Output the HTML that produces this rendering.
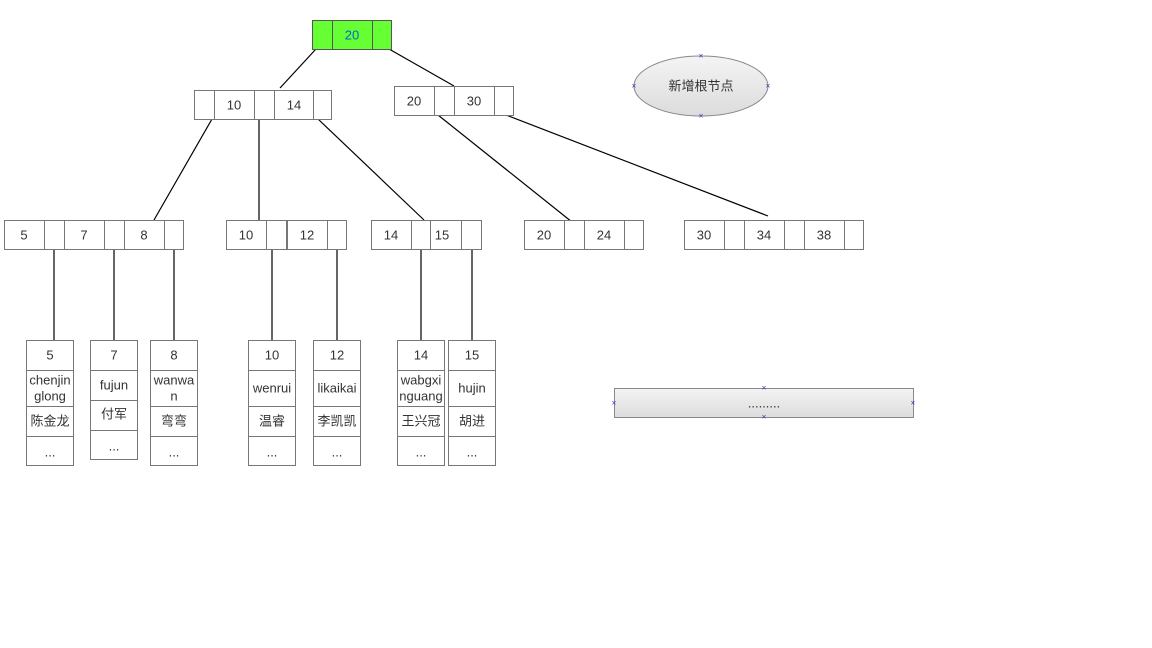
<!DOCTYPE html>
<html><head><meta charset="utf-8"><style>body{margin:0;background:#fff}svg{display:block}text{font-family:"Liberation Sans","Noto Sans CJK SC",sans-serif;font-size:13px;fill:#333;text-anchor:middle;dominant-baseline:central}</style></head><body>
<svg width="1152" height="648" viewBox="0 0 1152 648">
<defs><linearGradient id="g" x1="0" y1="0" x2="0" y2="1"><stop offset="0" stop-color="#f4f4f4"/><stop offset="1" stop-color="#dcdcdc"/></linearGradient></defs>
<g stroke="#000" stroke-width="1.2">
<line x1="316" y1="49" x2="280" y2="88"/><line x1="382" y1="45" x2="454" y2="86"/>
<line x1="212" y1="119" x2="154" y2="220"/><line x1="259" y1="119" x2="259" y2="220"/><line x1="318" y1="119" x2="424" y2="220"/>
<line x1="438" y1="115" x2="572" y2="222"/><line x1="506" y1="115" x2="768" y2="216"/>
<line x1="54" y1="249" x2="54" y2="340"/><line x1="114" y1="249" x2="114" y2="340"/><line x1="174" y1="249" x2="174" y2="340"/>
<line x1="272" y1="249" x2="272" y2="340"/><line x1="337" y1="249" x2="337" y2="340"/><line x1="421" y1="249" x2="421" y2="340"/><line x1="472" y1="249" x2="472" y2="340"/>
</g>
<g fill="#66ff33" stroke="#555">
<rect x="312.5" y="20.5" width="20" height="29"/><rect x="332.5" y="20.5" width="40" height="29"/><rect x="372.5" y="20.5" width="19" height="29"/>
</g>
<text x="352" y="35" style="fill:#0066cc">20</text>
<g fill="#fff" stroke="#777">
<rect x="194.5" y="90.5" width="20" height="29"/><rect x="214.5" y="90.5" width="40" height="29"/><rect x="254.5" y="90.5" width="20" height="29"/><rect x="274.5" y="90.5" width="39" height="29"/><rect x="313.5" y="90.5" width="18" height="29"/>
<rect x="394.5" y="86.5" width="40" height="29"/><rect x="434.5" y="86.5" width="20" height="29"/><rect x="454.5" y="86.5" width="40" height="29"/><rect x="494.5" y="86.5" width="19" height="29"/>
<rect x="4.5" y="220.5" width="40" height="29"/><rect x="44.5" y="220.5" width="20" height="29"/><rect x="64.5" y="220.5" width="40" height="29"/><rect x="104.5" y="220.5" width="20" height="29"/><rect x="124.5" y="220.5" width="40" height="29"/><rect x="164.5" y="220.5" width="19" height="29"/>
<rect x="226.5" y="220.5" width="40" height="29"/><rect x="266.5" y="220.5" width="20" height="29"/><rect x="287.5" y="220.5" width="40" height="29"/><rect x="327.5" y="220.5" width="19" height="29"/>
<rect x="371.5" y="220.5" width="40" height="29"/><rect x="411.5" y="220.5" width="19" height="29"/><rect x="430.5" y="220.5" width="31" height="29"/><rect x="461.5" y="220.5" width="20" height="29"/>
<rect x="524.5" y="220.5" width="40" height="29"/><rect x="564.5" y="220.5" width="20" height="29"/><rect x="584.5" y="220.5" width="40" height="29"/><rect x="624.5" y="220.5" width="19" height="29"/>
<rect x="684.5" y="220.5" width="40" height="29"/><rect x="724.5" y="220.5" width="20" height="29"/><rect x="744.5" y="220.5" width="40" height="29"/><rect x="784.5" y="220.5" width="20" height="29"/><rect x="804.5" y="220.5" width="40" height="29"/><rect x="844.5" y="220.5" width="19" height="29"/>
</g>
<text x="234" y="105">10</text><text x="294" y="105">14</text>
<text x="414" y="101">20</text><text x="474" y="101">30</text>
<text x="24" y="235">5</text><text x="84" y="235">7</text><text x="144" y="235">8</text>
<text x="246" y="235">10</text><text x="307" y="235">12</text>
<text x="391" y="235">14</text><text x="442" y="235">15</text>
<text x="544" y="235">20</text><text x="604" y="235">24</text>
<text x="704" y="235">30</text><text x="764" y="235">34</text><text x="824" y="235">38</text>
<g fill="#fff" stroke="#777">
<rect x="26.5" y="340.5" width="47" height="125"/><rect x="90.5" y="340.5" width="47" height="119"/><rect x="150.5" y="340.5" width="47" height="125"/>
<rect x="248.5" y="340.5" width="47" height="125"/><rect x="313.5" y="340.5" width="47" height="125"/><rect x="397.5" y="340.5" width="47" height="125"/><rect x="448.5" y="340.5" width="47" height="125"/>
</g>
<g stroke="#777">
<path d="M26 370.5H73M26 406.5H73M26 436.5H73"/>
<path d="M90 370.5H137M90 400.5H137M90 430.5H137"/>
<path d="M150 370.5H197M150 406.5H197M150 436.5H197"/>
<path d="M248 370.5H295M248 406.5H295M248 436.5H295"/>
<path d="M313 370.5H360M313 406.5H360M313 436.5H360"/>
<path d="M397 370.5H444M397 406.5H444M397 436.5H444"/>
<path d="M448 370.5H495M448 406.5H495M448 436.5H495"/>
</g>
<g style="font-size:12.5px">
<text x="50" y="355">5</text><text x="50" y="380">chenjin</text><text x="50" y="396">glong</text><text x="50" y="421">陈金龙</text><text x="50" y="452">...</text>
<text x="114" y="355">7</text><text x="114" y="385">fujun</text><text x="114" y="414">付军</text><text x="114" y="446">...</text>
<text x="174" y="355">8</text><text x="174" y="380">wanwa</text><text x="174" y="396">n</text><text x="174" y="421">弯弯</text><text x="174" y="452">...</text>
<text x="272" y="355">10</text><text x="272" y="388">wenrui</text><text x="272" y="421">温睿</text><text x="272" y="452">...</text>
<text x="337" y="355">12</text><text x="337" y="388">likaikai</text><text x="337" y="421">李凯凯</text><text x="337" y="452">...</text>
<text x="421" y="355">14</text><text x="421" y="380">wabgxi</text><text x="421" y="396">nguang</text><text x="421" y="421">王兴冠</text><text x="421" y="452">...</text>
<text x="472" y="355">15</text><text x="472" y="388">hujin</text><text x="472" y="421">胡进</text><text x="472" y="452">...</text>
</g>
<ellipse cx="701" cy="86" rx="67" ry="30" fill="url(#g)" stroke="#888"/>
<text x="701" y="86">新增根节点</text>
<rect x="614.5" y="388.5" width="299" height="29" fill="url(#g)" stroke="#888"/>
<text x="764" y="403">.........</text>
<g fill="#33c" font-size="8"><text x="701" y="56" style="fill:#33c;font-size:8px">×</text><text x="701" y="116" style="fill:#33c;font-size:8px">×</text><text x="634" y="86" style="fill:#33c;font-size:8px">×</text><text x="768" y="86" style="fill:#33c;font-size:8px">×</text>
<text x="764" y="388" style="fill:#33c;font-size:8px">×</text><text x="764" y="417" style="fill:#33c;font-size:8px">×</text><text x="614" y="403" style="fill:#33c;font-size:8px">×</text><text x="913" y="403" style="fill:#33c;font-size:8px">×</text></g>
</svg>
</body></html>
